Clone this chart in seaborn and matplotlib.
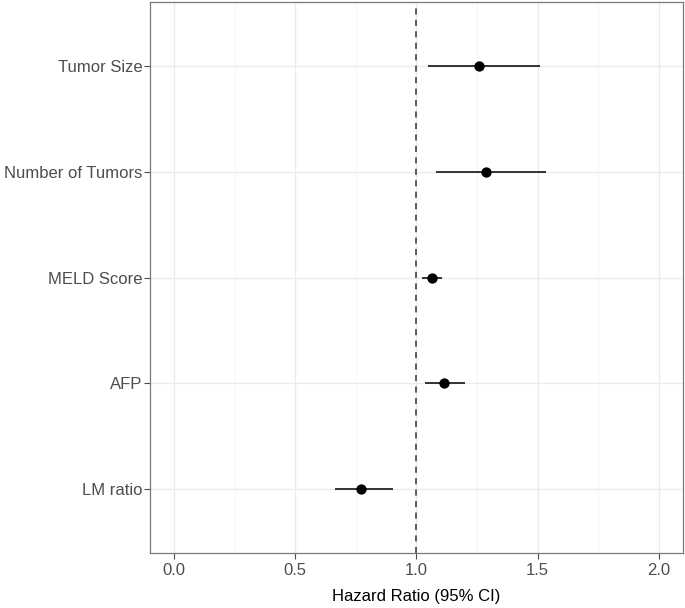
import numpy as np
import pandas as pd
import matplotlib
matplotlib.use("Agg")
import matplotlib.pyplot as plt
import seaborn as sns
from matplotlib.ticker import MultipleLocator

# values (top to bottom)
variables = ["Tumor Size", "Number of Tumors", "MELD Score", "AFP", "LM ratio"]
hazard_ratio = [1.257, 1.286, 1.063, 1.113, 0.772]
ci_lower = [1.047, 1.080, 1.023, 1.034, 0.663]
ci_upper = [1.510, 1.533, 1.106, 1.200, 0.901]
x_ticks = [0.0, 0.5, 1.0, 1.5, 2.0]

sns.set_theme(style="white")
plt.rcParams["font.family"] = ["Liberation Sans", "DejaVu Sans"]

df = pd.DataFrame({
    "variable": variables,
    "hr": hazard_ratio,
    "lower": ci_lower,
    "upper": ci_upper,
})

fig = plt.figure(figsize=(6.85, 6.08), dpi=100)
ax = fig.add_axes([150 / 685, 55 / 608, 533 / 685, 551 / 608])

# grid like theme_bw
ax.xaxis.set_major_locator(MultipleLocator(0.5))
ax.xaxis.set_minor_locator(MultipleLocator(0.25))
ax.grid(True, which="major", axis="both", color="#EBEBEB", linewidth=1.0, zorder=0)
ax.grid(True, which="minor", axis="x", color="#F2F2F2", linewidth=0.6, zorder=0)

ax.hlines(y=df["variable"], xmin=df["lower"], xmax=df["upper"],
          color="black", linewidth=1.1, zorder=3)
sns.scatterplot(data=df, x="hr", y="variable", ax=ax, color="black",
                s=55, edgecolor="black", linewidth=0, zorder=4)
ax.axvline(1.0, color="#333333", linestyle=(0, (4, 3.5)), linewidth=1.1, zorder=2)

ax.set_xlim(-0.1, 2.1)
ax.set_ylim(len(variables) - 0.4, -0.6)
ax.set_xticks(x_ticks)
ax.set_xticklabels([f"{t:.1f}" for t in x_ticks])
ax.set_axisbelow(True)

ax.set_xlabel("Hazard Ratio (95% CI)", fontsize=12, color="black", labelpad=8)
ax.set_ylabel("")
ax.tick_params(axis="both", which="major", labelsize=12, labelcolor="#4D4D4D",
               color="#4D4D4D", length=4, width=0.8, direction="out",
               bottom=True, left=True, pad=1.5)
ax.tick_params(axis="x", which="major", pad=3)
ax.tick_params(axis="x", which="minor", length=0)

for side in ax.spines.values():
    side.set_color("#7A7A7A")
    side.set_linewidth(0.9)

plt.savefig("out.png", dpi=100)
plt.close()
